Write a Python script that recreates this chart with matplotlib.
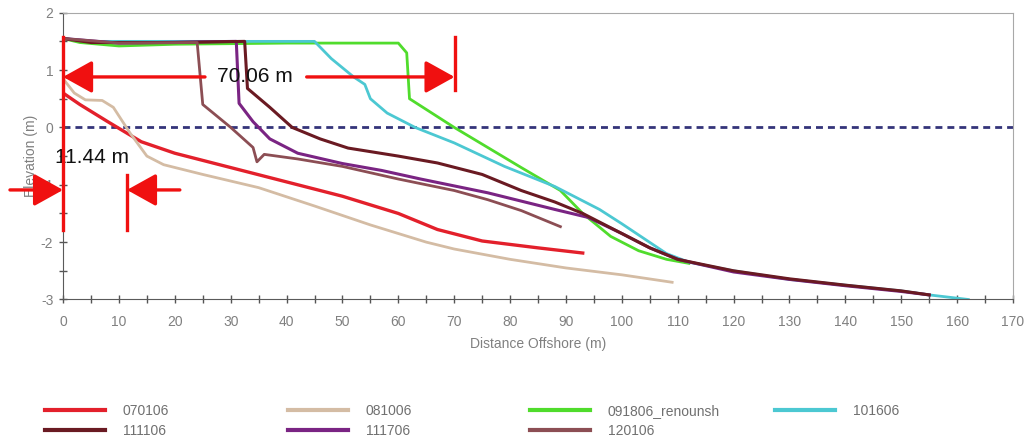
import matplotlib
matplotlib.use("Agg")
import matplotlib.pyplot as plt
from matplotlib.ticker import MultipleLocator
from matplotlib.lines import Line2D

plt.rcParams['font.family'] = ['Liberation Sans', 'DejaVu Sans']
plt.rcParams['axes.unicode_minus'] = False

# profile data: distance offshore (m), elevation (m)
x_070106 = [0, 3, 8, 14, 20, 30, 40, 50, 60, 67, 75, 85, 93]
y_070106 = [0.6, 0.4, 0.1, -0.25, -0.45, -0.7, -0.95, -1.2, -1.5, -1.78, -1.98, -2.1, -2.19]

x_081006 = [0, 2, 4, 7, 9, 12, 15, 18, 25, 35, 45, 55, 65, 70, 80, 90, 100, 109]
y_081006 = [0.85, 0.6, 0.48, 0.47, 0.35, -0.1, -0.5, -0.65, -0.82, -1.05, -1.37, -1.7, -2.0, -2.12, -2.3, -2.45, -2.57, -2.7]

x_091806 = [0, 3, 10, 20, 40, 60, 61.5, 62, 70, 82, 89, 93, 98, 103, 108, 112]
y_091806 = [1.55, 1.48, 1.42, 1.45, 1.47, 1.47, 1.3, 0.5, 0.0, -0.7, -1.1, -1.5, -1.9, -2.15, -2.3, -2.37]

x_101606 = [0, 5, 20, 45, 48, 52, 54, 55, 58, 63, 70, 79, 88, 96, 100, 108, 112, 120, 130, 140, 150, 155, 162]
y_101606 = [1.55, 1.5, 1.5, 1.5, 1.2, 0.88, 0.75, 0.5, 0.25, 0.0, -0.27, -0.68, -1.03, -1.43, -1.68, -2.2, -2.35, -2.5, -2.65, -2.75, -2.85, -2.92, -3.0]

x_111106 = [0, 5, 20, 32.5, 33, 37, 41, 46, 51, 60, 67, 75, 82, 88, 93, 100, 105, 110, 120, 130, 140, 150, 155]
y_111106 = [1.55, 1.48, 1.48, 1.5, 0.68, 0.35, 0.0, -0.2, -0.36, -0.5, -0.62, -0.82, -1.1, -1.3, -1.5, -1.85, -2.1, -2.3, -2.5, -2.64, -2.75, -2.85, -2.92]

x_111706 = [0, 10, 31, 31.5, 34, 37, 42, 50, 57, 64, 76, 88, 94, 100, 105, 110, 120, 130, 140, 150, 155]
y_111706 = [1.55, 1.47, 1.5, 0.42, 0.1, -0.2, -0.45, -0.63, -0.75, -0.9, -1.14, -1.43, -1.57, -1.85, -2.1, -2.3, -2.52, -2.65, -2.76, -2.86, -2.92]

x_120106 = [0, 10, 24, 25, 30, 34, 34.7, 36, 42, 50, 60, 70, 76, 82, 89]
y_120106 = [1.55, 1.47, 1.48, 0.4, 0.0, -0.35, -0.6, -0.47, -0.55, -0.68, -0.9, -1.1, -1.26, -1.45, -1.73]

labels = ['070106', '081006', '091806_renourish', '101606', '111706', '111106', '120106']
colors = ['#e3202b', '#d4bca4', '#50dc2c', '#4cc8d2', '#7a2483', '#6a1a22', '#8c4e54']
widths = [2.4, 2.0, 2.0, 2.0, 2.2, 2.2, 2.0]

xs = [x_070106, x_081006, x_091806, x_101606, x_111706, x_111106, x_120106]
ys = [y_070106, y_081006, y_091806, y_101606, y_111706, y_111106, y_120106]

# dimension annotations
dist_long = 70.06
dist_short = 11.44

fig = plt.figure(figsize=(10.32, 4.47), dpi=100)
ax = fig.add_axes([0.0611, 0.330, 0.9205, 0.6416])

handles = {}
for x, y, lab, c, w in zip(xs, ys, labels, colors, widths):
    ln, = ax.plot(x, y, color=c, lw=w, solid_joinstyle='round')
    handles[lab] = ln

ax.axhline(0, color='#34347a', lw=2, linestyle=(0, (2.5, 1.8)), zorder=1)

ax.set_xlim(0, 170)
ax.set_ylim(-3, 2)
ax.xaxis.set_major_locator(MultipleLocator(10))
ax.xaxis.set_minor_locator(MultipleLocator(5))
ax.yaxis.set_major_locator(MultipleLocator(1))
ax.yaxis.set_minor_locator(MultipleLocator(0.5))
ax.tick_params(which='both', direction='inout', length=6, width=1, color='#555555',
               labelcolor='#808080', labelsize=10)
ax.tick_params(axis='x', pad=8)
ax.tick_params(axis='y', pad=4)
for s in ['left', 'bottom']:
    ax.spines[s].set_color('#5a5a5a')
for s in ['top', 'right']:
    ax.spines[s].set_color('#a8a8a8')
ax.set_xlabel('Distance Offshore (m)', color='#808080', fontsize=10, labelpad=6)
ax.set_ylabel('Elevation (m)', color='#808080', fontsize=10, labelpad=2)

red = '#f01010'
arr = dict(arrowstyle='-|>,head_length=0.9,head_width=0.5', mutation_scale=20,
           color=red, lw=2.4, shrinkA=0, shrinkB=0)
ya = 0.88
ax.annotate('', xy=(0, ya), xytext=(25.4, ya), arrowprops=arr, annotation_clip=False)
ax.annotate('', xy=(dist_long, ya), xytext=(43.6, ya), arrowprops=arr, annotation_clip=False)
ax.text(dist_long * 0.49, ya, f'{dist_long:.2f} m', fontsize=15, ha='center', va='center', color='#111111')
ax.plot([dist_long, dist_long], [1.57, 0.65], color=red, lw=2.4, zorder=5)
ax.plot([0, 0], [1.57, -1.78], color=red, lw=2.4, zorder=5, clip_on=False)

yb = -1.09
ax.annotate('', xy=(0, yb), xytext=(-9.5, yb), arrowprops=arr, annotation_clip=False)
ax.annotate('', xy=(dist_short, yb), xytext=(20.9, yb), arrowprops=arr, annotation_clip=False)
ax.plot([dist_short, dist_short], [-0.83, -1.78], color=red, lw=2.4, zorder=5)
ax.text(5.2, -0.53, f'{dist_short:.2f} m', fontsize=15, ha='center', va='center', color='#111111')

# legend: four equally spaced columns
cols = [['070106', '111106'], ['081006', '111706'], ['091806_renourish', '120106'], ['101606']]
col_x = [45, 288, 530, 775]
for names, px in zip(cols, col_x):
    hs = [Line2D([], [], color=handles[n].get_color(), lw=3) for n in names]
    txt = [n.replace('renourish', 'renounsh') for n in names]
    leg = fig.legend(hs, txt, loc='upper left', bbox_to_anchor=(px / 1032, 1 - 404 / 447),
                     frameon=False, fontsize=10, handlelength=4.3, handletextpad=1.3,
                     labelspacing=0.4, borderpad=0, borderaxespad=0)
    for t in leg.get_texts():
        t.set_color('#707070')

fig.savefig('out.png', dpi=100)
